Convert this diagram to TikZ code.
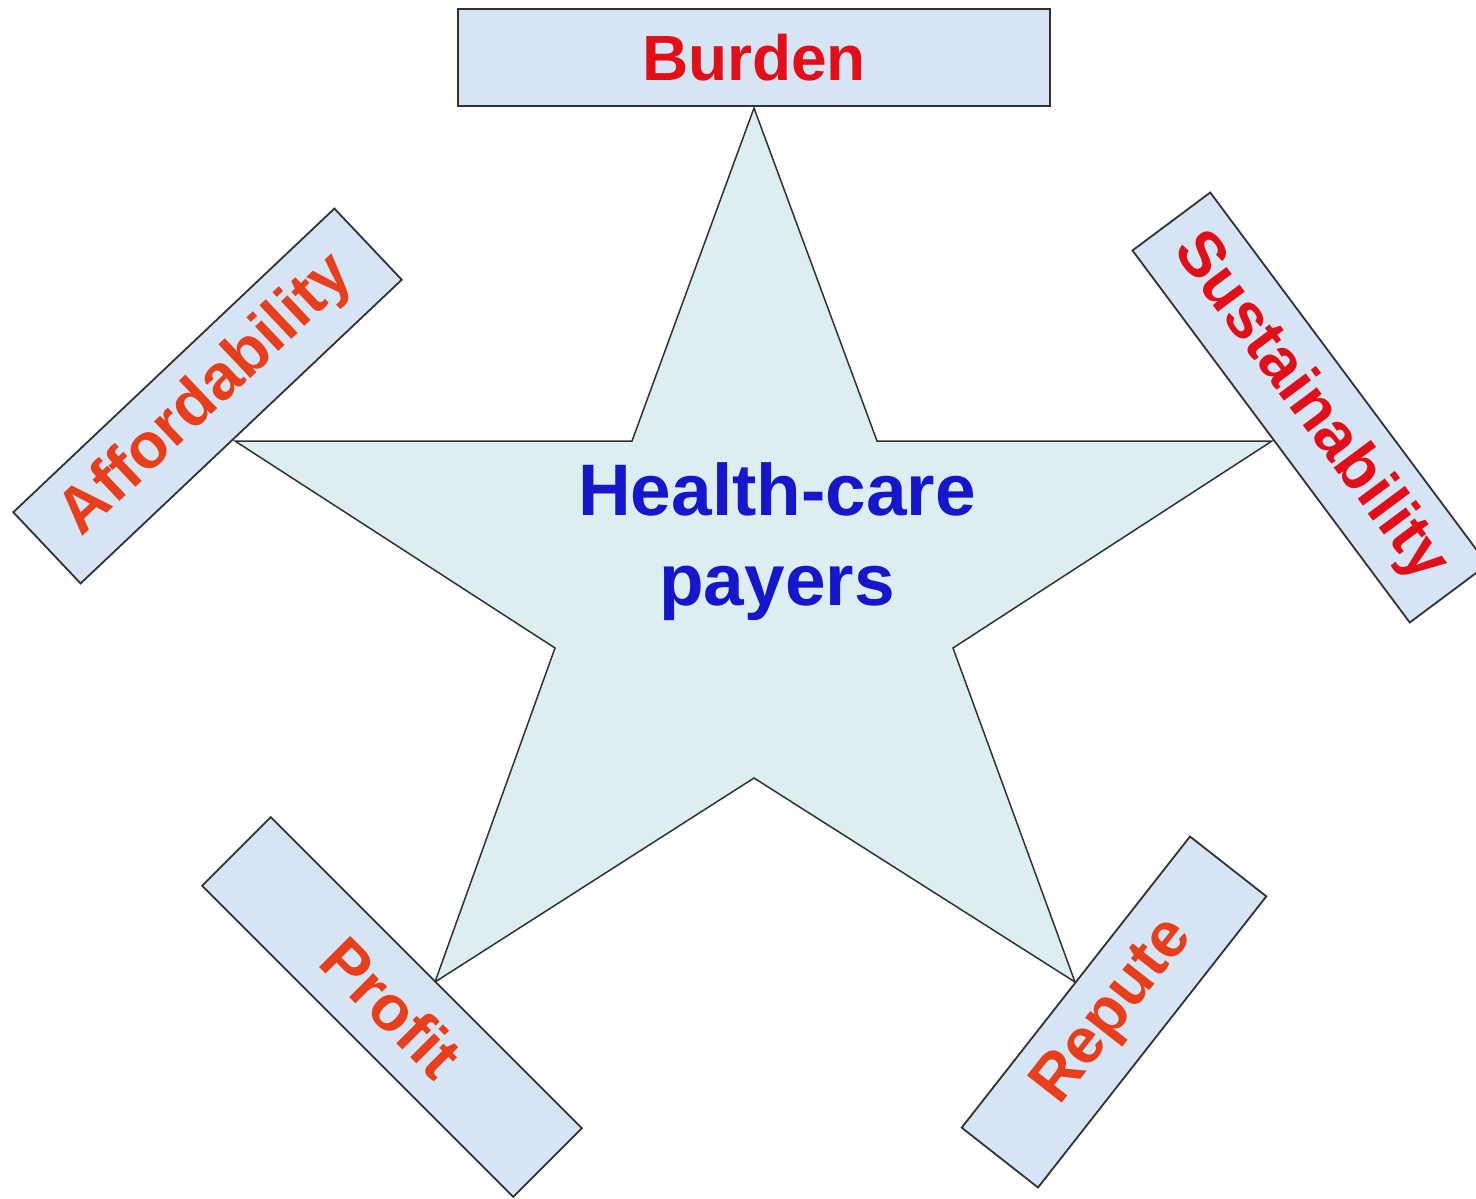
\documentclass[tikz,border=0pt]{standalone}
\usepackage{fontspec}
\setmainfont{Liberation Sans}
\definecolor{starfill}{RGB}{220,238,242}
\definecolor{boxfill}{RGB}{214,229,243}
\definecolor{edge}{RGB}{50,50,50}
\definecolor{lblred}{RGB}{226,14,24}
\definecolor{lblorange}{RGB}{232,62,28}
\definecolor{ctrblue}{RGB}{22,22,205}
\tikzset{
  labelbox/.style={draw=edge, line width=1.8pt, fill=boxfill, inner sep=0pt,
    font=\fontsize{64}{70}\selectfont\bfseries},
  starshape/.style={draw=edge, line width=1.5pt, fill=starfill, line join=miter},
}
\begin{document}
\begin{tikzpicture}[x=1pt,y=1pt]
\useasboundingbox (0,0) rectangle (1476,-1199);
\clip (0,0) rectangle (1476,-1199);
% star
\draw[starshape] (754,-108) -- (877,-441) -- (1272,-441) -- (953,-648) -- (1075,-982)
  -- (754,-778) -- (435,-982) -- (555,-648) -- (235,-441) -- (632,-441) -- cycle;
\node[font=\fontsize{73}{90}\selectfont\bfseries, text=ctrblue, align=center] (center) at (777,-542)
  {Health-care\\payers};
% boxes
\node[labelbox, text=lblred, minimum width=592pt, minimum height=97pt] (burden) at (754,-57.5) {Burden};
\node[labelbox, text=lblorange, minimum width=442pt, minimum height=98pt, rotate=43.4] (afford) at (207.5,-396) {Affordability};
\node[labelbox, text=lblred, minimum width=464pt, minimum height=97pt, rotate=-53.3] (sustain) at (1310,-407.5) {Sustainability};
\node[labelbox, text=lblorange, minimum width=440pt, minimum height=97pt, rotate=-45] (profit) at (392,-1007) {Profit};
\node[labelbox, text=lblorange, minimum width=370pt, minimum height=97pt, rotate=51.9] (repute) at (1114,-1012) {Repute};
\end{tikzpicture}
\end{document}
